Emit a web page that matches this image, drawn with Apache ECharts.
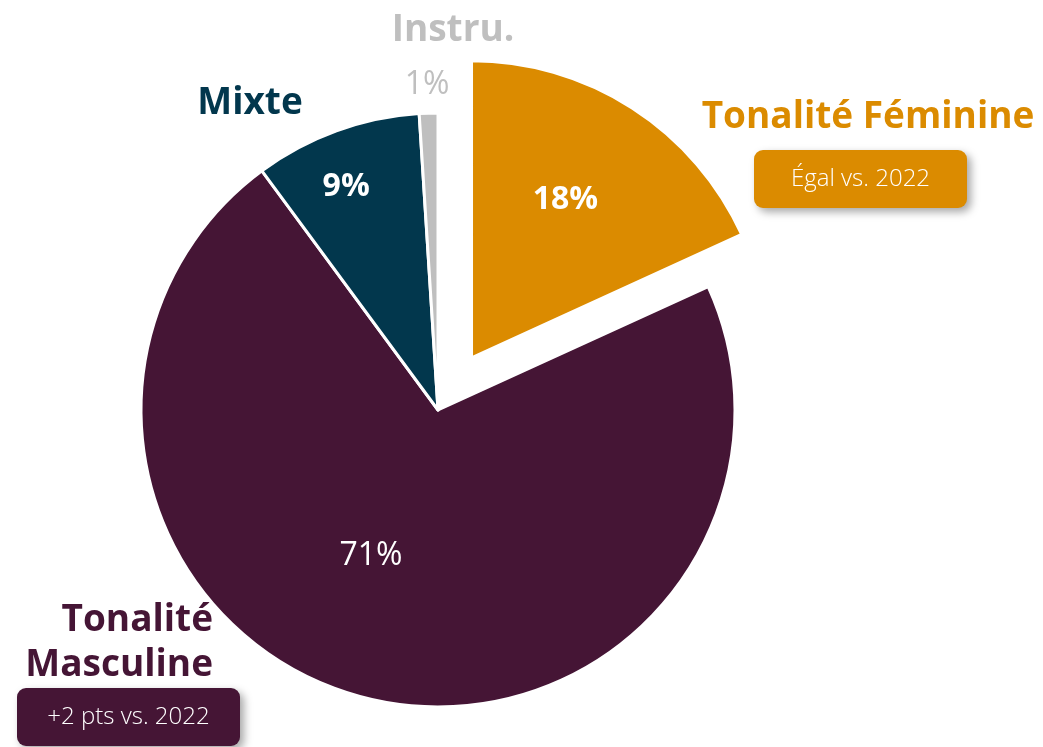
<!DOCTYPE html>
<html>
<head>
<meta charset="utf-8">
<script src="https://cdn.jsdelivr.net/npm/echarts@6/dist/echarts.min.js"></script>
<style>
  html, body { margin: 0; padding: 0; background: #fff; }
  #main { width: 1043px; height: 747px; }
</style>
</head>
<body>
<div id="main"></div>
<script>
var categories = ['Tonalité Féminine', 'Tonalité Masculine', 'Mixte', 'Instru.'];
var shares = [18, 71, 9, 1];
var colors = ['#DB8B00', '#451535', '#02374D', '#BFBFBF'];
var labelOffsets = [[26, -67], [-29, -1], [-42, -84], [-6, -174]];
var labelNudge = [[12, -31], [0, 0], [2, 3], [0, 0]];
var FONT = '"Open Sans", sans-serif';

var myChart = echarts.init(document.getElementById('main'));

var pieData = [];
for (var i = 0; i < categories.length; i++) {
	pieData.push({
		name: categories[i],
		value: shares[i],
		selected: i === 0,
		itemStyle: { color: colors[i] },
		label: {
			offset: labelOffsets[i],
			color: i === 3 ? '#BFBFBF' : '#fff',
			fontWeight: (i === 1 || i === 3) ? 500 : 'bold'
		}
	});
}

// box with shadow + text
function tag(x, y, w, h, fill, text) {
	return {
		type: 'group',
		left: x, top: y,
		children: [
			{
				type: 'rect',
				shape: { x: 0, y: 0, width: w, height: h, r: 9 },
				style: { fill: fill, shadowBlur: 8, shadowOffsetX: 4, shadowOffsetY: 4, shadowColor: 'rgba(0,0,0,0.35)' }
			},
			{
				type: 'text',
				x: w / 2, y: h / 2,
				style: { text: text, fill: '#fff', font: '300 24px ' + FONT, textAlign: 'center', textVerticalAlign: 'middle' }
			}
		]
	};
}

var option = {
	backgroundColor: '#fff',
	animation: false,
	series: [{
		type: 'pie',
		center: [438, 410],
		radius: 297,
		startAngle: 90,
		clockwise: true,
		selectedMode: 'single',
		selectedOffset: 62,
		itemStyle: { borderColor: '#fff', borderWidth: 3 },
		label: {
			show: true,
			position: 'inside',
			formatter: function (p) { return p.value + '%'; },
			fontSize: 32,
			fontFamily: FONT
		},
		labelLayout: function (p) {
			return { dx: labelNudge[p.dataIndex][0], dy: labelNudge[p.dataIndex][1] };
		},
		labelLine: { show: false },
		emphasis: { disabled: true },
		data: pieData
	}],
	graphic: [
		{ type: 'text', x: 453, y: 30, style: { text: 'Instru.', fill: '#BFBFBF', font: 'bold 37px ' + FONT, textAlign: 'center', textVerticalAlign: 'middle' } },
		{ type: 'text', x: 250, y: 103, style: { text: 'Mixte', fill: '#02374D', font: 'bold 37px ' + FONT, textAlign: 'center', textVerticalAlign: 'middle' } },
		{ type: 'text', x: 868, y: 117, style: { text: 'Tonalité Féminine', fill: '#DB8B00', font: 'bold 37px ' + FONT, textAlign: 'center', textVerticalAlign: 'middle' } },
		{ type: 'text', x: 213, y: 620, style: { text: 'Tonalité', fill: '#451535', font: 'bold 37px ' + FONT, textAlign: 'right', textVerticalAlign: 'middle' } },
		{ type: 'text', x: 213, y: 665, style: { text: 'Masculine', fill: '#451535', font: 'bold 37px ' + FONT, textAlign: 'right', textVerticalAlign: 'middle' } },
		tag(754, 150, 213, 58, '#DB8B00', 'Égal vs. 2022'),
		tag(17, 688, 223, 58, '#451535', '+2 pts vs. 2022')
	]
};

myChart.setOption(option);
</script>
</body>
</html>
